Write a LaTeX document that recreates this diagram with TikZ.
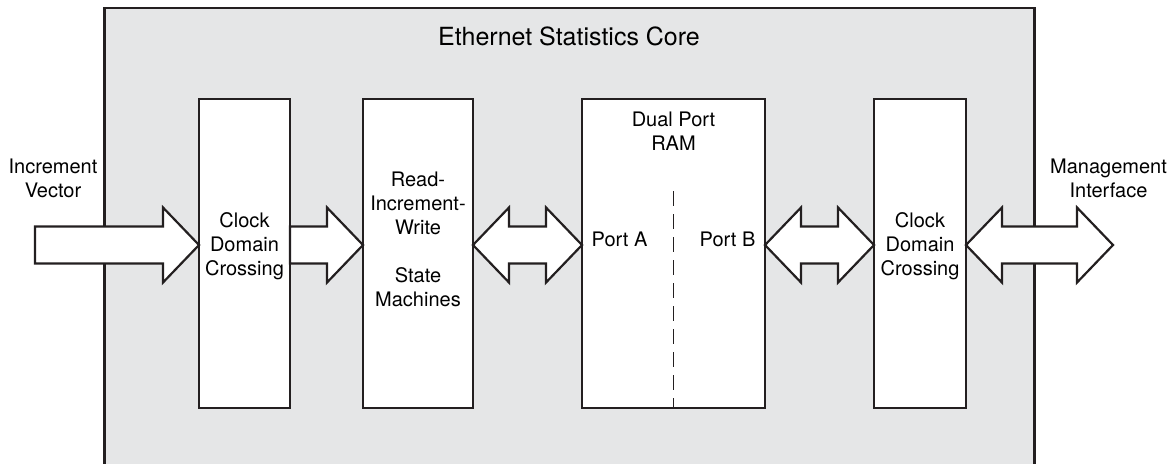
\documentclass[tikz,border=0pt]{standalone}
\usepackage{fontspec}
\setmainfont{TeX Gyre Heros}
\usetikzlibrary{calc}

\definecolor{coregray}{HTML}{E5E6E7}
\definecolor{linec}{HTML}{231F20}

\tikzset{
  core box/.style={rectangle, draw=linec, fill=coregray, line width=1.2pt, outer sep=0pt},
  block/.style={rectangle, draw=linec, fill=white, line width=1.2pt, minimum height=154.5pt, inner sep=0pt, outer sep=0pt},
  fat/.style={draw=linec, fill=white, line width=1.1pt, line join=miter},
  lbl/.style={inner sep=0pt, align=center, font=\fontsize{10}{12}\selectfont},
  split line/.style={draw=linec, line width=0.8pt, dash pattern=on 7.5pt off 4pt},
}

% fat arrows along the data path
\newcommand\onewayarrow[2]{%
  \draw[fat] let \p1=(#1), \p2=(#2) in
    (\x1,\y1+9.25pt) -- (\x2-18pt,\y1+9.25pt) -- (\x2-18pt,\y1+18.75pt) -- (\x2,\y1)
    -- (\x2-18pt,\y1-18.75pt) -- (\x2-18pt,\y1-9.25pt) -- (\x1,\y1-9.25pt) -- cycle;}
\newcommand\twowayarrow[2]{%
  \draw[fat] let \p1=(#1), \p2=(#2) in
    (\x1,\y1) -- (\x1+18pt,\y1+18.75pt) -- (\x1+18pt,\y1+9.25pt) -- (\x2-18pt,\y1+9.25pt)
    -- (\x2-18pt,\y1+18.75pt) -- (\x2,\y1) -- (\x2-18pt,\y1-18.75pt) -- (\x2-18pt,\y1-9.25pt)
    -- (\x1+18pt,\y1-9.25pt) -- (\x1+18pt,\y1-18.75pt) -- cycle;}

\begin{document}
\begin{tikzpicture}[x=0.5pt, y=-0.5pt]
  \useasboundingbox (0,0) rectangle (1170,463);

  % core outline and title
  \node[core box, minimum width=465pt, minimum height=229pt] (core) at (569.5,237) {};
  \node[lbl, font=\fontsize{12.5}{15}\selectfont] (title) at (569,36) {Ethernet Statistics Core};

  % blocks
  \node[block, minimum width=45.5pt] (cdc1) at (244.5,253.5) {};
  \node[block, minimum width=55pt] (riw) at (418,253.5) {};
  \node[block, minimum width=91.5pt] (ram) at (673.5,253.5) {};
  \node[block, minimum width=46pt] (cdc2) at (920,253.5) {};

  % block texts
  \node[lbl] (cdc1txt) at (244.5,246) {Clock\\Domain\\Crossing};
  \node[lbl] (riwtxt) at (418,239) {Read-\\Increment-\\Write\\[12pt]State\\Machines};
  \node[lbl] (ramtxt) at (673.5,131) {Dual Port\\RAM};
  \node[lbl] (porta) at (619.5,239) {Port A};
  \node[lbl] (portb) at (727.5,239) {Port B};
  \node[lbl] (cdc2txt) at (920,246) {Clock\\Domain\\Crossing};

  % outside texts
  \node[lbl] (vectxt) at (53,178) {Increment\\Vector};
  \node[lbl] (mgmttxt) at (1108.5,178) {Management\\Interface};

  % port split
  \coordinate (split) at (673.5,191);
  \draw[split line] (split) -- (ram.south);

  % data path
  \coordinate (axis) at (0,245);
  \coordinate (vecin) at (35,245);
  \coordinate (mgmtout) at (1113,245);
  \onewayarrow{vecin}{cdc1.west |- axis}
  \onewayarrow{cdc1.east |- axis}{riw.west |- axis}
  \twowayarrow{riw.east |- axis}{ram.west |- axis}
  \twowayarrow{ram.east |- axis}{cdc2.west |- axis}
  \twowayarrow{cdc2.east |- axis}{mgmtout}
\end{tikzpicture}
\end{document}
